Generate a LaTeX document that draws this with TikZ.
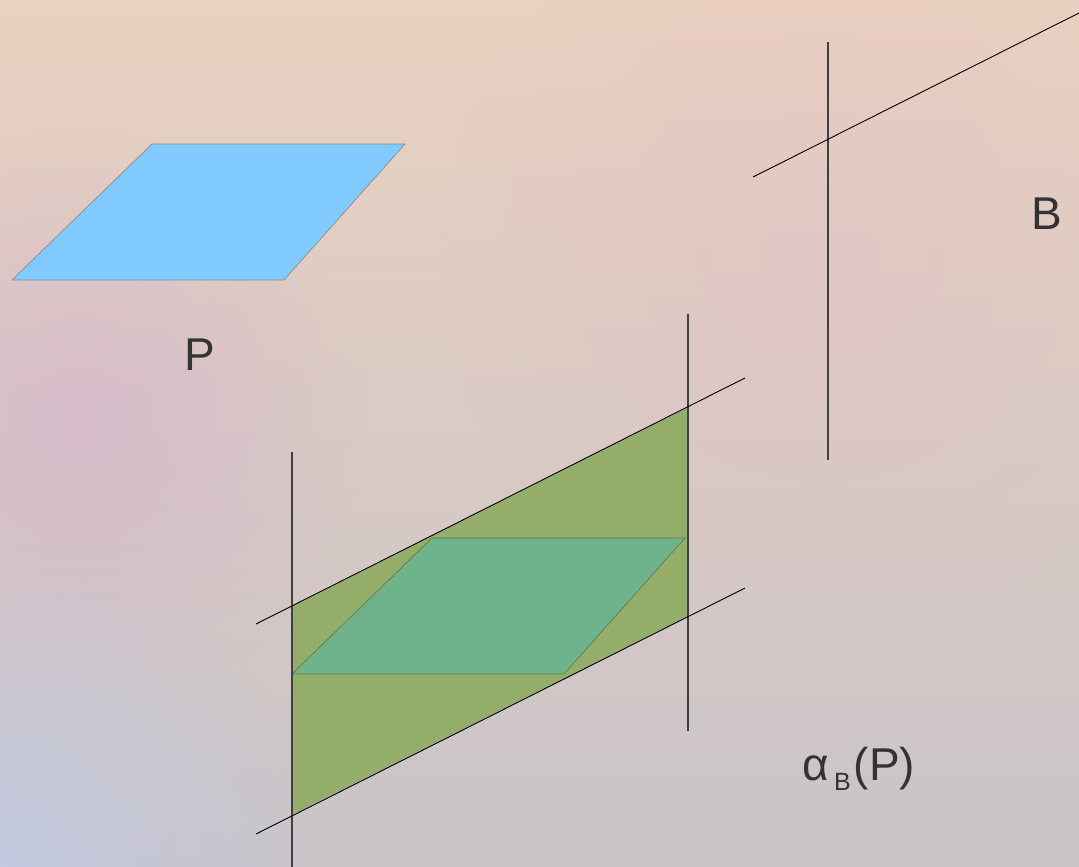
\documentclass[tikz,border=0pt]{standalone}
\usepackage{fontspec}
\setmainfont{Liberation Sans}
\usetikzlibrary{fadings}
\tikzfading[name=blob, inner color=transparent!0, outer color=transparent!100]
\definecolor{bgtop}{RGB}{234,209,192}
\definecolor{bgmid}{RGB}{222,194,196}
\definecolor{bgbot}{RGB}{201,196,200}
\definecolor{lavpink}{RGB}{212,178,208}
\definecolor{bluegrey}{RGB}{194,202,228}
\definecolor{pinkish}{RGB}{226,188,198}
\definecolor{pblue}{RGB}{129,202,255}
\definecolor{olive}{RGB}{148,174,106}
\definecolor{teal}{RGB}{110,179,140}
\definecolor{txtgray}{RGB}{51,51,51}
\begin{document}
\begin{tikzpicture}[x=1pt,y=-1pt,line width=1pt,
  vline/.style={draw=black!75,line width=1.1pt},
  sline/.style={draw=black,line width=0.9pt},
  lbl/.style={text=txtgray,inner sep=0pt,font=\fontsize{46}{46}\selectfont}]
 \useasboundingbox (0,0) rectangle (1079,867);
 \clip (0,0) rectangle (1079,867);
 % background
 \shade[top color=bgtop,middle color=bgmid,bottom color=bgbot] (0,0) rectangle (1079,867);
 \fill[pinkish,path fading=blob,fill opacity=0.35] (820,260) circle (380pt);
 \fill[lavpink,path fading=blob,fill opacity=0.6] (80,420) circle (290pt);
 \fill[bluegrey,path fading=blob,fill opacity=0.85] (0,867) circle (320pt);
 % P
 \filldraw[fill=pblue,draw=black!45,line width=0.7pt] (152,144) -- (405,144) -- (284,280) -- (12,280) -- cycle;
 \node[lbl,anchor=base] (P) at (200,370) {P};
 % B
 \coordinate (bt) at (828,42); \coordinate (bb) at (828,460);
 \coordinate (bl) at (753,177); \coordinate (br) at (1079,13);
 \draw[vline] (bt) -- (bb);
 \draw[sline] (bl) -- (br);
 \node[lbl,anchor=base] (B) at (1047,229) {B};
 % alpha_B(P)
 \fill[olive,draw=black!35,line width=0.7pt] (292,606) -- (687,408) -- (687,617) -- (292,815) -- cycle;
 \fill[teal,draw=olive!70!black,line width=0.7pt] (292,674) -- (432,538) -- (685,538) -- (564,674) -- cycle;
 \coordinate (lt) at (292,452); \coordinate (lb) at (292,867);
 \coordinate (rt) at (688,314); \coordinate (rb) at (688,731);
 \coordinate (ul) at (256,624); \coordinate (ur) at (745,378);
 \coordinate (dl) at (256,834); \coordinate (dr) at (745,588);
 \draw[vline] (lt) -- (lb);
 \draw[vline] (rt) -- (rb);
 \draw[sline] (ul) -- (ur);
 \draw[sline] (dl) -- (dr);
 \node[lbl,anchor=base west] (img) at (802,780) {α\hspace{5pt}\raisebox{-10pt}{\fontsize{25}{25}\selectfont B}\hspace{3pt}(P)};
\end{tikzpicture}
\end{document}
